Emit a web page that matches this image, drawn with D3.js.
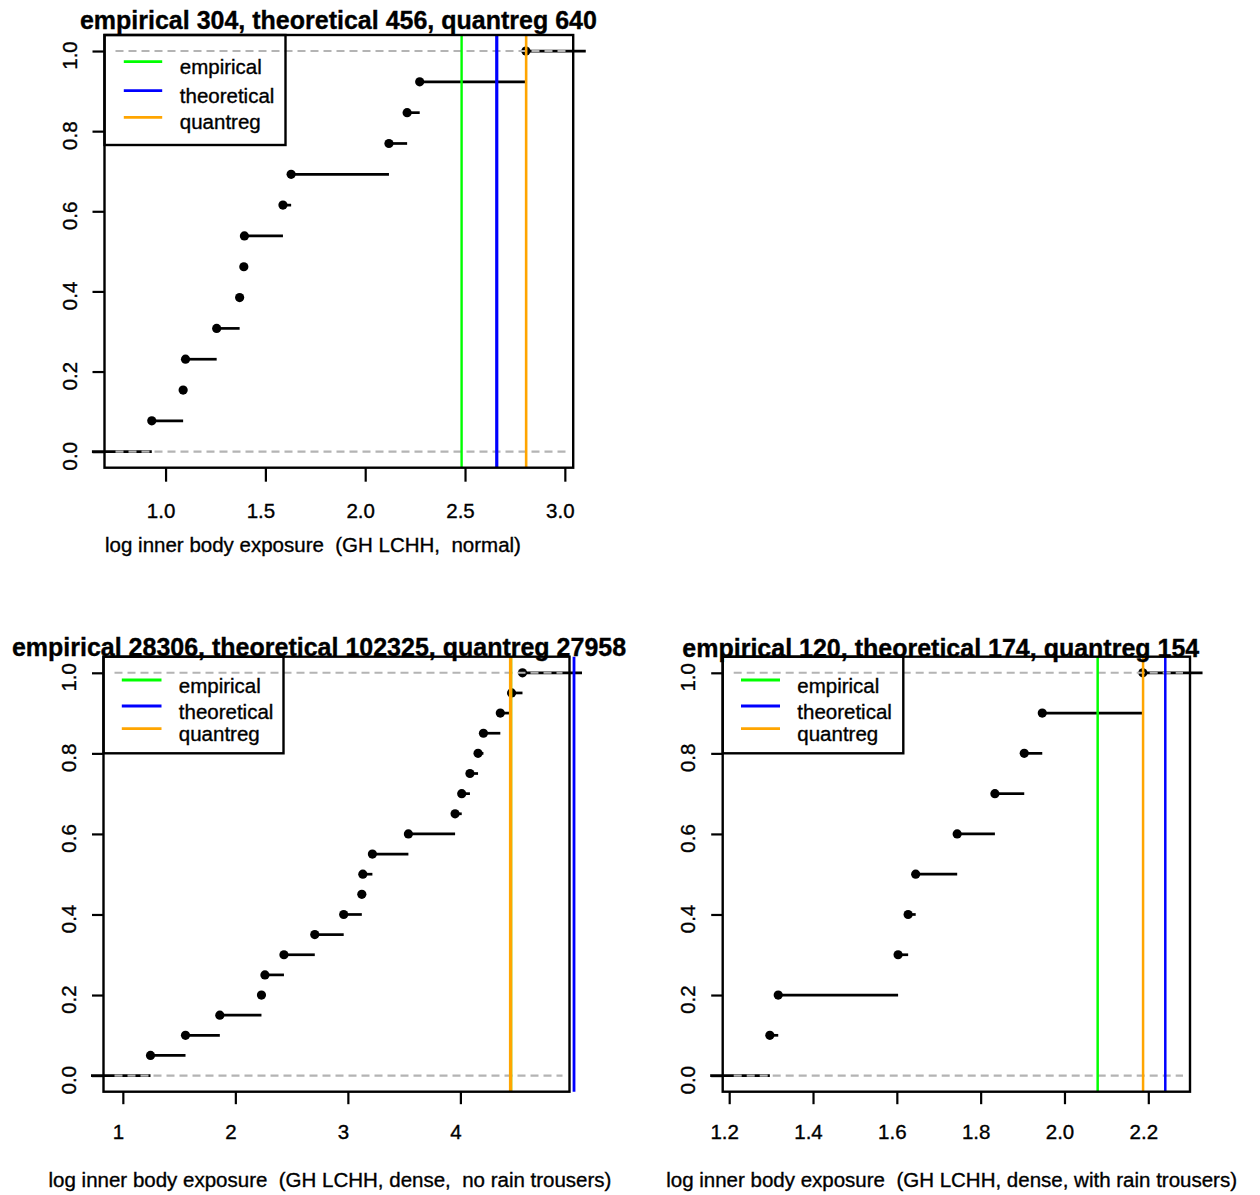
<!DOCTYPE html>
<html><head><meta charset="utf-8">
<script src="https://cdn.jsdelivr.net/npm/d3@7"></script>
<style>
html,body{margin:0;padding:0;background:#fff;}
svg{display:block;}
</style></head><body>
<svg id="chart" width="1260" height="1195"></svg>
<script>
// ---------------- data ----------------
const legendNames = ["empirical", "theoretical", "quantreg"];

// log inner body exposure samples (ECDF knots)
const normalExposure = [0.931, 1.088, 1.100, 1.256, 1.371, 1.392, 1.395, 1.588, 1.629, 2.119, 2.210, 2.273, 2.805];
const denseNoRainExposure = [1.246, 1.557, 1.862, 2.232, 2.263, 2.432, 2.706, 2.963, 3.124, 3.133,
                             3.218, 3.538, 3.953, 4.012, 4.085, 4.157, 4.205, 4.355, 4.455, 4.552];
const denseWithRainExposure = [1.297, 1.317, 1.603, 1.627, 1.645, 1.744, 1.834, 1.904, 1.947, 2.187];

// summary values shown in titles (empirical, theoretical, quantreg); lines drawn at log10
const normalSummary = [304, 456, 640];
const denseNoRainSummary = [28306, 102325, 27958];
const denseWithRainSummary = [120, 174, 154];

// tick values
const normalTicks = [1.0, 1.5, 2.0, 2.5, 3.0];
const denseNoRainTicks = [1, 2, 3, 4];
const denseWithRainTicks = [1.2, 1.4, 1.6, 1.8, 2.0, 2.2];
const yTicks = [0, 0.2, 0.4, 0.6, 0.8, 1.0];

// axis labels
const normalLabel = "log inner body exposure  (GH LCHH,  normal)";
const denseNoRainLabel = "log inner body exposure  (GH LCHH, dense,  no rain trousers)";
const denseWithRainLabel = "log inner body exposure  (GH LCHH, dense, with rain trousers)";

// ---------------- styles / layout ----------------
const FONT = '"Liberation Sans", Arial, Helvetica, sans-serif';
const seriesColors = ["#00FF00", "#0000FF", "#FFA500"];
const BASE = 20.5, TITLE = 25;
const TXT_STROKE = 0.35;

const panels = [
  { values: normalExposure, summary: normalSummary, ticks: normalTicks, fmt: d3.format(".1f"), label: normalLabel,
    box: {x0: 104.5, x1: 573.2, y0: 35, y1: 467.7}, xTickLen: 14, yTickLen: 12, xTickBase: 50.5,
    titleX: 338.4, titleY: 29.3, labelX: 313, labelY: 551.7, vw: [2.4, 3.2, 2.6],
    legend: {w: 181, h: 110, lx0: 19.3, lx1: 57.7, ly: [26.7, 55.7, 82.3], tx: 75.3, tdy: 11.8} },
  { values: denseNoRainExposure, summary: denseNoRainSummary, ticks: denseNoRainTicks, fmt: d3.format("d"), label: denseNoRainLabel,
    box: {x0: 103.5, x1: 569.5, y0: 656.7, y1: 1091.7}, xTickLen: 12.5, yTickLen: 11.5, xTickBase: 47,
    titleX: 319, titleY: 656.3, labelX: 330, labelY: 1186.7, vw: [2, 2.8, 3.4],
    legend: {w: 180, h: 96.6, lx0: 18.3, lx1: 58, ly: [23.3, 49.3, 72], tx: 75.3, tdy: 12.8} },
  { values: denseWithRainExposure, summary: denseWithRainSummary, ticks: denseWithRainTicks, fmt: d3.format(".1f"), label: denseWithRainLabel,
    box: {x0: 722.7, x1: 1190, y0: 656.7, y1: 1091.7}, xTickLen: 12.5, yTickLen: 11.5, xTickBase: 47.3,
    titleX: 940.8, titleY: 656.5, labelX: 951.6, labelY: 1186.7, vw: [2.5, 2.5, 2.5],
    legend: {w: 180.6, h: 96.6, lx0: 18.3, lx1: 57.3, ly: [23.3, 49.3, 72], tx: 74.6, tdy: 12.8} }
];

const svg = d3.select("#chart").attr("font-family", FONT);

function inkText(sel) {
  return sel.attr("fill", "#000").attr("stroke", "#000").attr("stroke-width", TXT_STROKE);
}

panels.forEach(p => {
  const vals = p.values.slice().sort((a, b) => a - b);
  const n = vals.length;
  // R plot.stepfun x-limits
  const rx = d3.extent(vals);
  const diffs = d3.pairs(vals).map(([a, b]) => b - a);
  const dr = Math.max(0.08 * (rx[1] - rx[0]), d3.median(diffs));
  const xlim = [rx[0] - dr, rx[1] + dr];
  const ext = 0.04 * (xlim[1] - xlim[0]);
  const box = p.box;

  const x = d3.scaleLinear().domain([xlim[0] - ext, xlim[1] + ext]).range([box.x0, box.x1]);
  const y = d3.scaleLinear().domain([-0.04, 1.04]).range([box.y1, box.y0]);

  const g = svg.append("g");

  // x axis
  const gx = g.append("g").attr("transform", `translate(0,${box.y1})`)
    .call(d3.axisBottom(x).tickValues(p.ticks).tickFormat(p.fmt).tickSize(p.xTickLen).tickSizeOuter(0));
  gx.attr("font-family", null).attr("font-size", null);
  gx.select(".domain").remove();
  gx.selectAll(".tick line").attr("stroke", "#000").attr("stroke-width", 2.2);
  inkText(gx.selectAll(".tick text").attr("y", p.xTickBase).attr("dy", null).attr("x", -5)
    .attr("font-size", BASE).attr("font-family", FONT));

  // y axis
  const gy = g.append("g").attr("transform", `translate(${box.x0},0)`)
    .call(d3.axisLeft(y).tickValues(yTicks).tickFormat(d3.format(".1f")).tickSize(p.yTickLen).tickSizeOuter(0));
  gy.attr("font-family", null).attr("font-size", null);
  gy.select(".domain").remove();
  gy.selectAll(".tick line").attr("stroke", "#000").attr("stroke-width", 2.2);
  inkText(gy.selectAll(".tick text").attr("x", null).attr("dy", null).attr("text-anchor", "middle")
    .attr("transform", "translate(-27.7,4) rotate(-90)")
    .attr("font-size", BASE).attr("font-family", FONT));

  // step segments
  const ti = [xlim[0] - dr, ...vals, xlim[1] + dr];
  const segs = d3.range(n + 1).map(i => ({x0: ti[i], x1: ti[i + 1], y: i / n}));
  g.append("g").selectAll("line").data(segs).join("line")
    .attr("x1", d => x(d.x0)).attr("x2", d => x(d.x1))
    .attr("y1", d => y(d.y)).attr("y2", d => y(d.y))
    .attr("stroke", "#000").attr("stroke-width", 2.7);

  // points
  g.append("g").selectAll("circle").data(vals).join("circle")
    .attr("cx", d => x(d)).attr("cy", (d, i) => y((i + 1) / n)).attr("r", 4.6).attr("fill", "#000");

  // 0 / 1 reference lines
  g.append("g").selectAll("line").data([0, 1]).join("line")
    .attr("x1", box.x0 + 11).attr("x2", box.x1 - 7)
    .attr("y1", d => y(d)).attr("y2", d => y(d))
    .attr("stroke", "#B4B4B4").attr("stroke-width", 2.1).attr("stroke-dasharray", "8,5");

  // vertical summary lines
  g.append("g").selectAll("line").data(p.summary).join("line")
    .attr("x1", d => x(Math.log10(d))).attr("x2", d => x(Math.log10(d)))
    .attr("y1", box.y0).attr("y2", box.y1)
    .attr("stroke", (d, i) => seriesColors[i]).attr("stroke-width", (d, i) => p.vw[i]);

  // plot box
  g.append("rect").attr("x", box.x0).attr("y", box.y0)
    .attr("width", box.x1 - box.x0).attr("height", box.y1 - box.y0)
    .attr("fill", "none").attr("stroke", "#000").attr("stroke-width", 2.4);

  // legend
  const L = p.legend;
  const gl = g.append("g").attr("transform", `translate(${box.x0},${box.y0})`);
  gl.append("rect").attr("width", L.w).attr("height", L.h)
    .attr("fill", "none").attr("stroke", "#000").attr("stroke-width", 2.4);
  legendNames.forEach((name, i) => {
    gl.append("line").attr("x1", L.lx0).attr("x2", L.lx1).attr("y1", L.ly[i]).attr("y2", L.ly[i])
      .attr("stroke", seriesColors[i]).attr("stroke-width", 2.8);
    inkText(gl.append("text").attr("x", L.tx).attr("y", L.ly[i] + L.tdy)
      .attr("font-size", BASE)).text(name);
  });

  // title
  inkText(g.append("text").attr("x", p.titleX).attr("y", p.titleY).attr("text-anchor", "middle")
    .attr("font-size", TITLE).attr("font-weight", "bold"))
    .text(`${legendNames[0]} ${p.summary[0]}, ${legendNames[1]} ${p.summary[1]}, ${legendNames[2]} ${p.summary[2]}`);

  // x axis label
  inkText(g.append("text").attr("x", p.labelX).attr("y", p.labelY).attr("text-anchor", "middle")
    .attr("font-size", BASE).style("white-space", "pre"))
    .text(p.label);
});
</script>
</body></html>
